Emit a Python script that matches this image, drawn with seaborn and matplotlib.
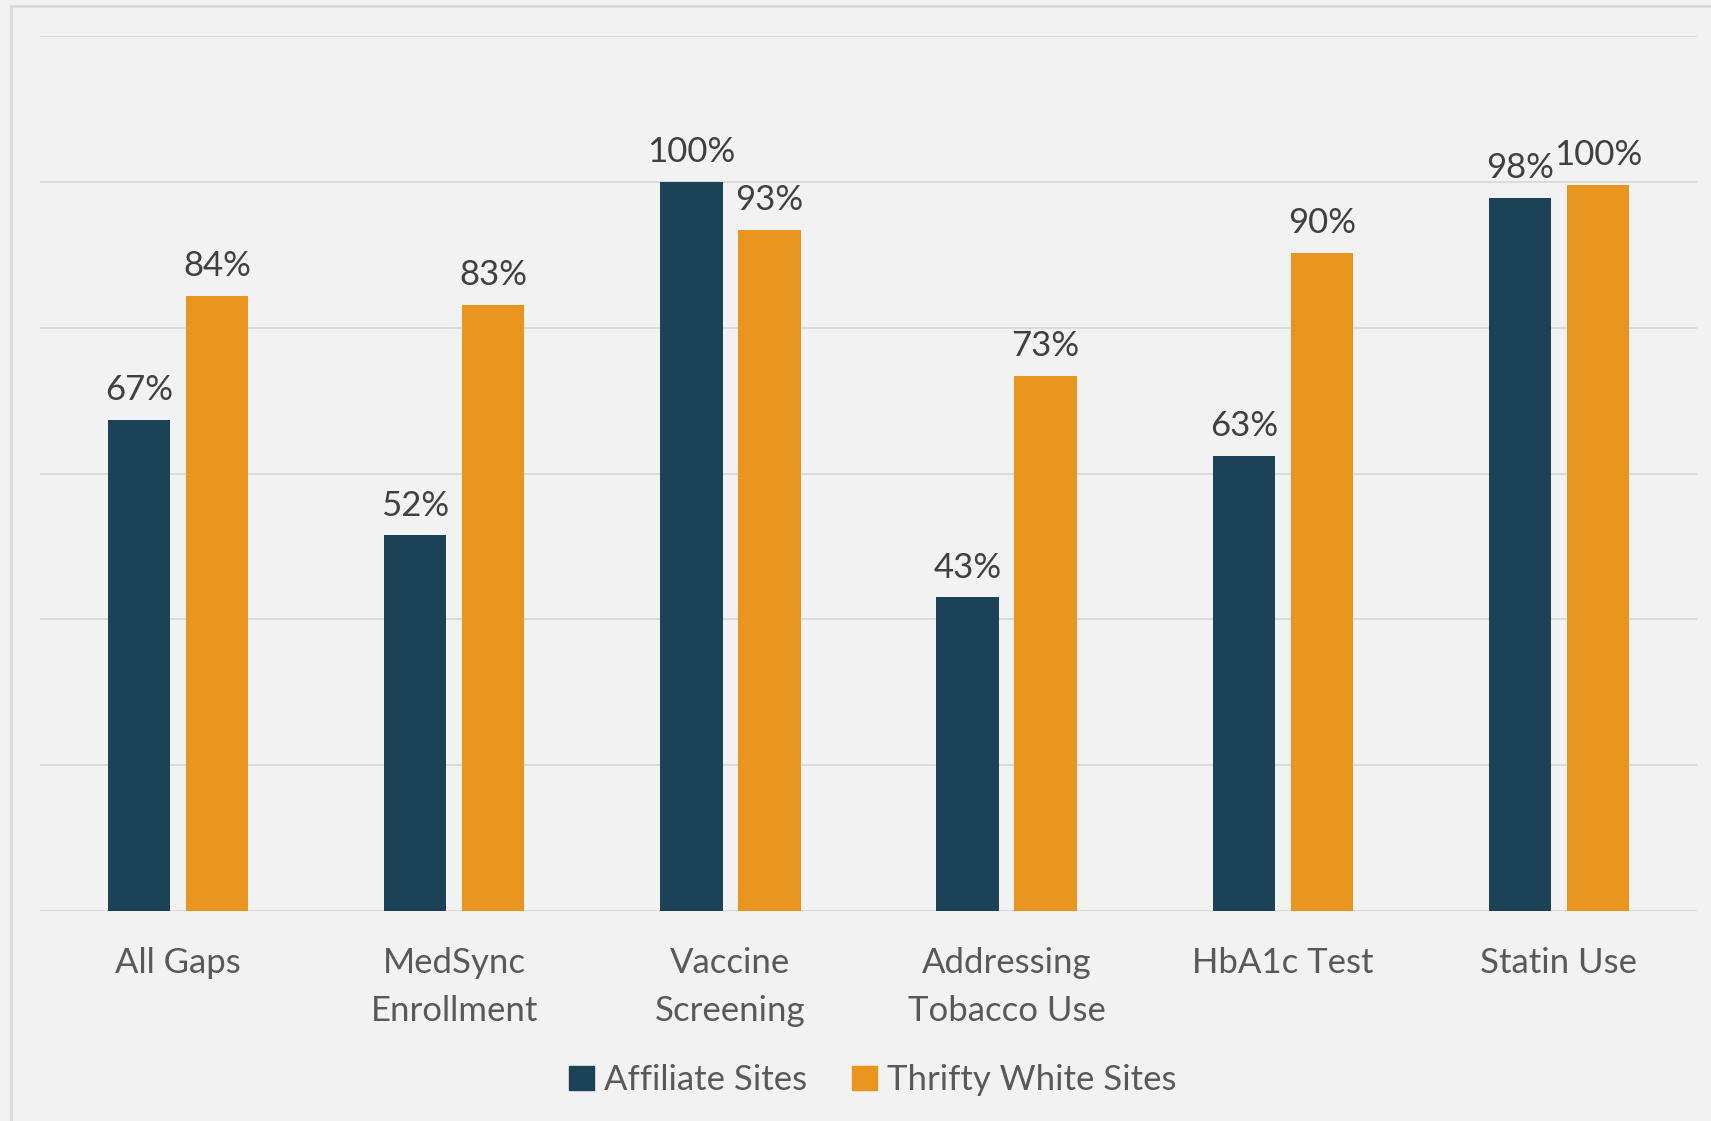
import pandas as pd
import matplotlib.pyplot as plt
import seaborn as sns
from matplotlib.patches import Rectangle

# Values (percent)
categories = ["All Gaps", "MedSync\nEnrollment", "Vaccine\nScreening",
              "Addressing\nTobacco Use", "HbA1c Test", "Statin Use"]
affiliate = [67.4, 51.5, 100.0, 43.0, 62.4, 97.8]
thrifty = [84.4, 83.1, 93.4, 73.4, 90.3, 99.6]
affiliate_labels = ["67%", "52%", "100%", "43%", "63%", "98%"]
thrifty_labels = ["84%", "83%", "93%", "73%", "90%", "100%"]
series = ["Affiliate Sites", "Thrifty White Sites"]
colors = ["#1B4257", "#E8961F"]

df = pd.DataFrame({
    "category": categories * 2,
    "series": [series[0]] * len(categories) + [series[1]] * len(categories),
    "value": affiliate + thrifty,
})

sns.set_theme(style="white")
plt.rcParams['font.family'] = ['Lato', 'DejaVu Sans']

bg = "#F2F2F2"
fig = plt.figure(figsize=(17.11, 11.21), dpi=100, facecolor=bg)
# Thin frame around the chart area (right/bottom edges fall outside the image)
fig.patches.append(Rectangle((10.5 / 1711, -0.05), 1.2, 1.05 - 6.5 / 1121,
                             transform=fig.transFigure, fill=False,
                             edgecolor="#D9D9D9", linewidth=2, zorder=0))

ax = fig.add_axes([40 / 1711, 1 - 911 / 1121, (1697 - 40) / 1711, (911 - 36) / 1121])
ax.set_facecolor(bg)

sns.barplot(data=df, x="category", y="value", hue="series", hue_order=series,
            palette=colors, width=0.565, gap=0.2, errorbar=None,
            saturation=1, linewidth=0, ax=ax, legend=False)

for cont, labs in zip(ax.containers, [affiliate_labels, thrifty_labels]):
    ax.bar_label(cont, labels=labs, padding=10, fontsize=25, color="#404040")

ax.set_ylim(0, 120)
ax.set_yticks(range(0, 121, 20))
ax.yaxis.grid(True, color="#D9D9D9", linewidth=1.3)
ax.set_axisbelow(True)
ax.tick_params(axis="y", left=False, labelleft=False)
ax.tick_params(axis="x", bottom=False, labelsize=25, labelcolor="#595959", pad=20)
for lab in ax.get_xticklabels():
    lab.set_linespacing(1.6)
for s in ax.spines.values():
    s.set_visible(False)
ax.set_xlabel("")
ax.set_ylabel("")

handles = [Rectangle((0, 0), 1, 1, color=c) for c in colors]
fig.legend(handles, series, loc="center", bbox_to_anchor=(873 / 1711, 1 - 1080 / 1121),
           ncol=2, frameon=False, fontsize=25, labelcolor="#595959",
           handlelength=0.7, handleheight=0.7, handletextpad=0.3, columnspacing=1.3)

fig.savefig("out.png", dpi=100, facecolor=bg)
